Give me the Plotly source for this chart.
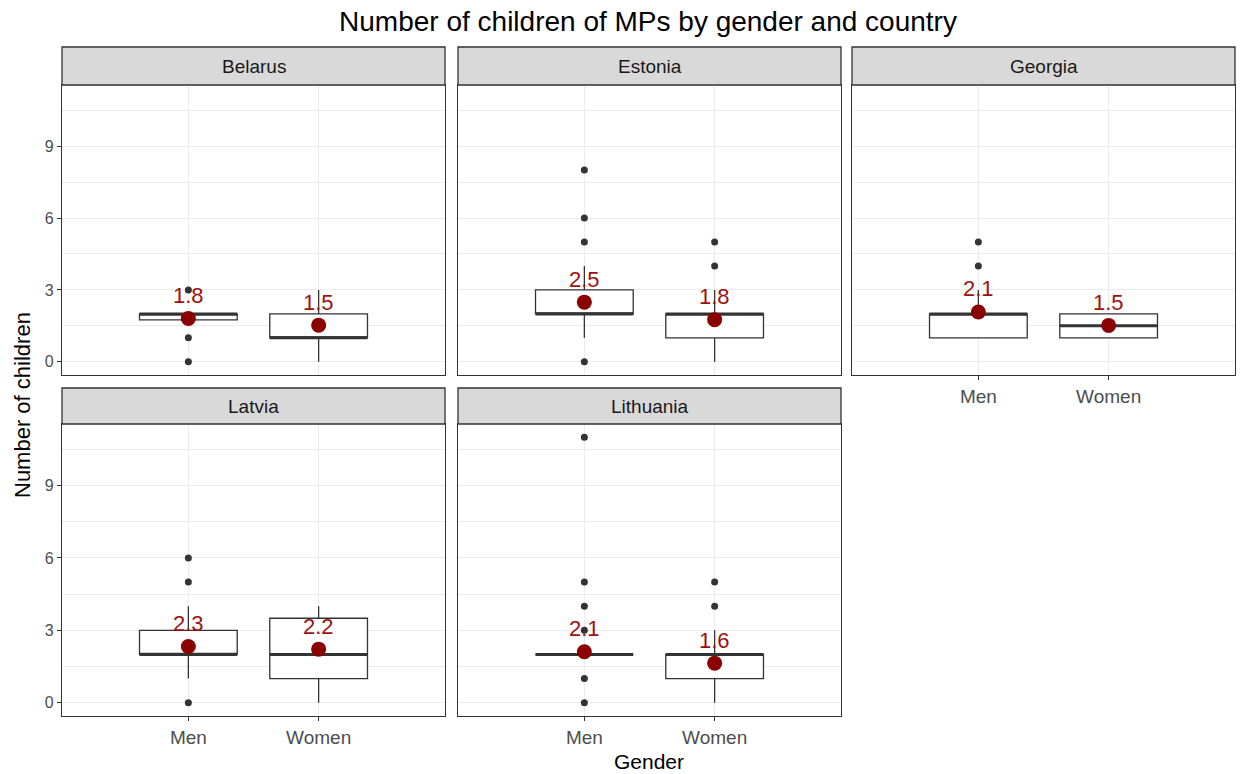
import plotly.graph_objects as go

# ---------------- data ----------------
countries = ["Belarus", "Estonia", "Georgia", "Latvia", "Lithuania"]
genders = ["Men", "Women"]

# box statistics per country: [Men, Women]
q1_vals = [[1.75, 1], [2, 1], [1, 1], [2, 1], [2, 1]]
median_vals = [[2, 1], [2, 2], [2, 1.5], [2, 2], [2, 2]]
q3_vals = [[2, 2], [3, 2], [2, 2], [3, 3.5], [2, 2]]
lower_vals = [[1.75, 0], [1, 0], [1, 1], [1, 0], [2, 0]]
upper_vals = [[2, 3], [4, 3], [3, 2], [4, 4], [2, 3]]
outliers = [
    [[0, 1, 3], []],
    [[0, 5, 6, 8], [4, 5]],
    [[4, 5], []],
    [[0, 5, 6], []],
    [[0, 1, 3, 4, 5, 11], [4, 5]],
]
mean_vals = [[1.81, 1.53], [2.49, 1.76], [2.08, 1.52], [2.33, 2.22], [2.11, 1.64]]

y_ticks = [0, 3, 6, 9]
y_minor = [1.5, 4.5, 7.5, 10.5]

title_text = "Number of children of MPs by gender and country"
x_title = "Gender"
y_title = "Number of children"

# ---------------- layout geometry (pixels) ----------------
W, H = 1240, 774
col_px = [(62, 445), (458, 841), (852, 1235)]
row_px = [(85, 375, 47), (424, 716, 388)]  # plot top, plot bottom, strip top
box_width = 0.75
FONT = "Liberation Sans, Arial, sans-serif"
DARK = "#333333"
GRID = "#EBEBEB"

fig = go.Figure()
layout_axes = {}
shapes = []
annotations = []

n = len(countries)
for idx, country in enumerate(countries):
    r, c = divmod(idx, 3)
    k = idx + 1
    xs = "x" if k == 1 else f"x{k}"
    ys = "y" if k == 1 else f"y{k}"
    x0, x1 = col_px[c]
    ptop, pbot, stop = row_px[r]

    for gi, g in enumerate(genders):
        xpos = gi + 1
        fig.add_trace(go.Box(
            x=[xpos], q1=[q1_vals[idx][gi]], median=[median_vals[idx][gi]],
            q3=[q3_vals[idx][gi]], lowerfence=[lower_vals[idx][gi]],
            upperfence=[upper_vals[idx][gi]], width=box_width,
            fillcolor="white", line=dict(color=DARK, width=1.3),
            whiskerwidth=0, boxpoints=False, showlegend=False,
            xaxis=xs, yaxis=ys, hoverinfo="skip"))
        # thick median line
        fig.add_trace(go.Scatter(
            x=[xpos - box_width / 2, xpos + box_width / 2],
            y=[median_vals[idx][gi]] * 2, mode="lines",
            line=dict(color=DARK, width=3), showlegend=False,
            xaxis=xs, yaxis=ys, hoverinfo="skip"))
        if outliers[idx][gi]:
            fig.add_trace(go.Scatter(
                x=[xpos] * len(outliers[idx][gi]), y=outliers[idx][gi],
                mode="markers", marker=dict(color=DARK, size=7),
                showlegend=False, xaxis=xs, yaxis=ys))
        fig.add_trace(go.Scatter(
            x=[xpos], y=[mean_vals[idx][gi]], mode="markers",
            marker=dict(color="#8B0000", size=15), showlegend=False,
            xaxis=xs, yaxis=ys))
        annotations.append(dict(
            x=xpos, y=mean_vals[idx][gi], xref=xs, yref=ys, yshift=23,
            text=f"{mean_vals[idx][gi]:.1f}", showarrow=False,
            font=dict(family=FONT, size=22, color="#A01010")))

    # show x labels if no panel below
    show_x = (idx + 3) >= n
    show_y = c == 0
    layout_axes["xaxis" if k == 1 else f"xaxis{k}"] = dict(
        domain=[x0 / W, x1 / W], range=[0.03, 2.97], anchor=ys,
        tickvals=[1, 2], ticktext=genders, showticklabels=show_x,
        ticks="outside" if show_x else "", ticklen=4, tickcolor=DARK, tickwidth=1.2,
        tickfont=dict(family=FONT, size=19, color="#4D4D4D"),
        showgrid=True, gridcolor=GRID, gridwidth=1.2, zeroline=False,
        showline=True, mirror=True, linecolor=DARK, linewidth=1.3)
    layout_axes["yaxis" if k == 1 else f"yaxis{k}"] = dict(
        domain=[1 - pbot / H, 1 - ptop / H], range=[-0.55, 11.55], anchor=xs,
        tickvals=y_ticks, showticklabels=show_y,
        ticks="outside" if show_y else "", ticklen=4, tickcolor=DARK, tickwidth=1.2,
        tickfont=dict(family=FONT, size=16, color="#4D4D4D"),
        showgrid=True, gridcolor=GRID, gridwidth=1.2, zeroline=False,
        minor=dict(tickvals=y_minor, showgrid=True, gridcolor=GRID, gridwidth=0.7, ticks=""),
        showline=True, mirror=True, linecolor=DARK, linewidth=1.3)

    # strip
    shapes.append(dict(type="rect", xref="paper", yref="paper",
                       x0=x0 / W, x1=x1 / W, y0=1 - ptop / H, y1=1 - stop / H,
                       fillcolor="#D9D9D9", line=dict(color=DARK, width=1.3)))
    annotations.append(dict(x=(x0 + x1) / 2 / W, y=1 - (ptop + stop) / 2 / H,
                            xref="paper", yref="paper", text=country, showarrow=False,
                            font=dict(family=FONT, size=19, color="#1A1A1A"),
                            xanchor="center", yanchor="middle"))

annotations.append(dict(x=648.5 / W, y=1 - 761 / H, xref="paper", yref="paper",
                        text=x_title, showarrow=False, xanchor="center", yanchor="middle",
                        font=dict(family=FONT, size=21, color="black")))
annotations.append(dict(x=22 / W, y=1 - 405 / H, xref="paper", yref="paper",
                        text=y_title, showarrow=False, textangle=-90,
                        xanchor="center", yanchor="middle",
                        font=dict(family=FONT, size=22, color="black")))

fig.update_layout(
    width=W, height=H, autosize=False,
    margin=dict(l=0, r=0, t=0, b=0),
    paper_bgcolor="white", plot_bgcolor="white",
    title=dict(text=title_text, x=648 / W, xanchor="center", y=1 - 21 / H,
               yanchor="middle", yref="container",
               font=dict(family=FONT, size=28, color="black")),
    shapes=shapes, annotations=annotations, showlegend=False,
    **layout_axes)

fig.write_html("out.html", config={"displayModeBar": False},
               post_script="document.body.style.margin='0px';document.body.style.overflow='hidden';")
